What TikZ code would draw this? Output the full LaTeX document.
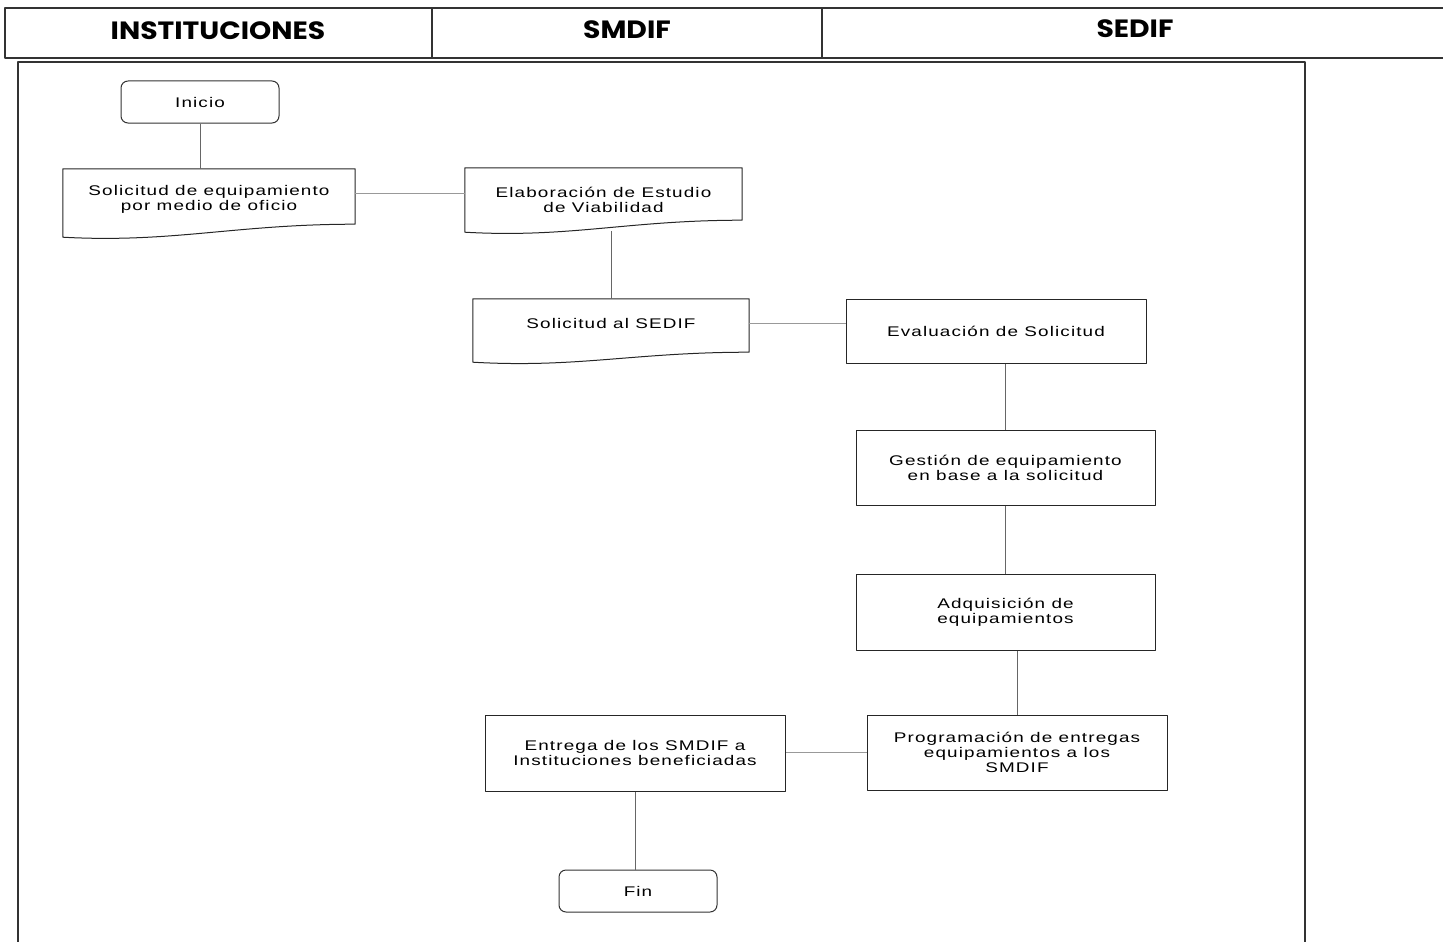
\documentclass[tikz,border=0pt]{standalone}
\usepackage{fontspec}
\setmainfont{Liberation Sans}[FakeStretch=1.35, LetterSpace=8]
\newfontfamily\headfont{Poppins}[FakeStretch=1.13]
\usetikzlibrary{positioning}

\begin{document}
\begin{tikzpicture}[%
    x=1pt, y=-1pt,
    line join=round,
    startend/.style={%
      rectangle,
      rounded corners=7pt,
      minimum width=158pt,
      minimum height=42pt,
      draw=black!80,
      line width=1pt,
      font=\fontsize{14}{15}\selectfont},
    proc/.style={%
      rectangle,
      minimum width=300pt,
      draw=black!85,
      line width=1pt,
      align=center,
      font=\fontsize{14}{15}\selectfont},
    docbox/.style={%
      rectangle,
      inner sep=0pt,
      align=center,
      font=\fontsize{14}{15}\selectfont},
    docline/.style={draw=black!85, line width=1pt},
    vlink/.style={draw=black!60, line width=0.7pt},
    hlink/.style={draw=black!40, line width=0.5pt},
    frame/.style={draw=black!80, line width=1.2pt},
    lane/.style={font=\headfont\bfseries\fontsize{25}{30}\selectfont}
    ]
    \useasboundingbox (0,0) rectangle (1443,942);

    % header
    \draw[frame] (1443,8) -- (5,8) -- (5,58) -- (1443,58);
    \draw[frame] (432,8) -- (432,58);
    \draw[frame] (822,8) -- (822,58);
    \node[lane] (hinst) at (218,31) {INSTITUCIONES};
    \node[lane] (hsmdif) at (627,30) {SMDIF};
    \node[lane] (hsedif) at (1135,29) {SEDIF};

    % outer frame
    \draw[frame] (18,945) -- (18,62) -- (1305,62) -- (1305,945);

    % start / end
    \node[startend] (inicio) at (200,102) {Inicio};
    \node[startend] (fin) at (638,891) {Fin};

    % documents
    \node[docbox, minimum width=292pt, minimum height=60pt] (solicitud) at (209,199)
      {Solicitud de equipamiento\\por medio de oficio};
    \draw[docline] (solicitud.north west) -- (solicitud.north east)
      -- ([yshift=5pt]solicitud.south east)
      .. controls +(-120,0) and +(110,6) .. ([yshift=-8pt]solicitud.south west) -- cycle;

    \node[docbox, minimum width=277pt, minimum height=63pt] (estudio) at (603.5,199.5)
      {Elaboración de Estudio\\de Viabilidad};
    \draw[docline] (estudio.north west) -- (estudio.north east)
      -- ([yshift=11pt]estudio.south east)
      .. controls +(-115,0) and +(105,6) .. ([yshift=-1pt]estudio.south west) -- cycle;

    \node[docbox, minimum width=276pt, minimum height=48pt] (solsedif) at (611,323)
      {Solicitud al SEDIF};
    \draw[docline] (solsedif.north west) -- (solsedif.north east)
      -- ([yshift=-5pt]solsedif.south east)
      .. controls +(-115,0) and +(105,6) .. ([yshift=-15pt]solsedif.south west) -- cycle;

    % processes
    \node[proc, minimum height=64pt] (eval) at (996,331) {Evaluación de Solicitud};
    \node[proc, minimum width=299pt, minimum height=75pt] (gestion) at (1005.5,467.5)
      {Gestión de equipamiento\\en base a la solicitud};
    \node[proc, minimum width=299pt, minimum height=76pt] (adq) [below=68pt of gestion]
      {Adquisición de\\equipamientos};
    \node[proc, minimum height=75pt] (prog) at (1017,752.5)
      {Programación de entregas\\equipamientos a los\\SMDIF};
    \node[proc, minimum height=76pt] (entrega) at (635,753)
      {Entrega de los SMDIF a\\Instituciones beneficiadas};

    % connectors
    \draw[vlink] (inicio.south) -- (inicio.south |- solicitud.north);
    \draw[hlink] ([yshift=6pt]solicitud.east) -- ([yshift=6pt]solicitud.east -| estudio.west);
    \draw[vlink] (estudio.south -| solsedif.north) -- (solsedif.north);
    \draw[hlink] (solsedif.east) -- (solsedif.east -| eval.west);
    \draw[vlink] (eval.south -| gestion.north) -- (gestion.north);
    \draw[vlink] (gestion) -- (adq);
    \draw[vlink] (adq.south -| prog.north) -- (prog.north);
    \draw[hlink] (prog.west) -- (prog.west -| entrega.east);
    \draw[vlink] (entrega.south) -- (entrega.south |- fin.north);
\end{tikzpicture}
\end{document}
